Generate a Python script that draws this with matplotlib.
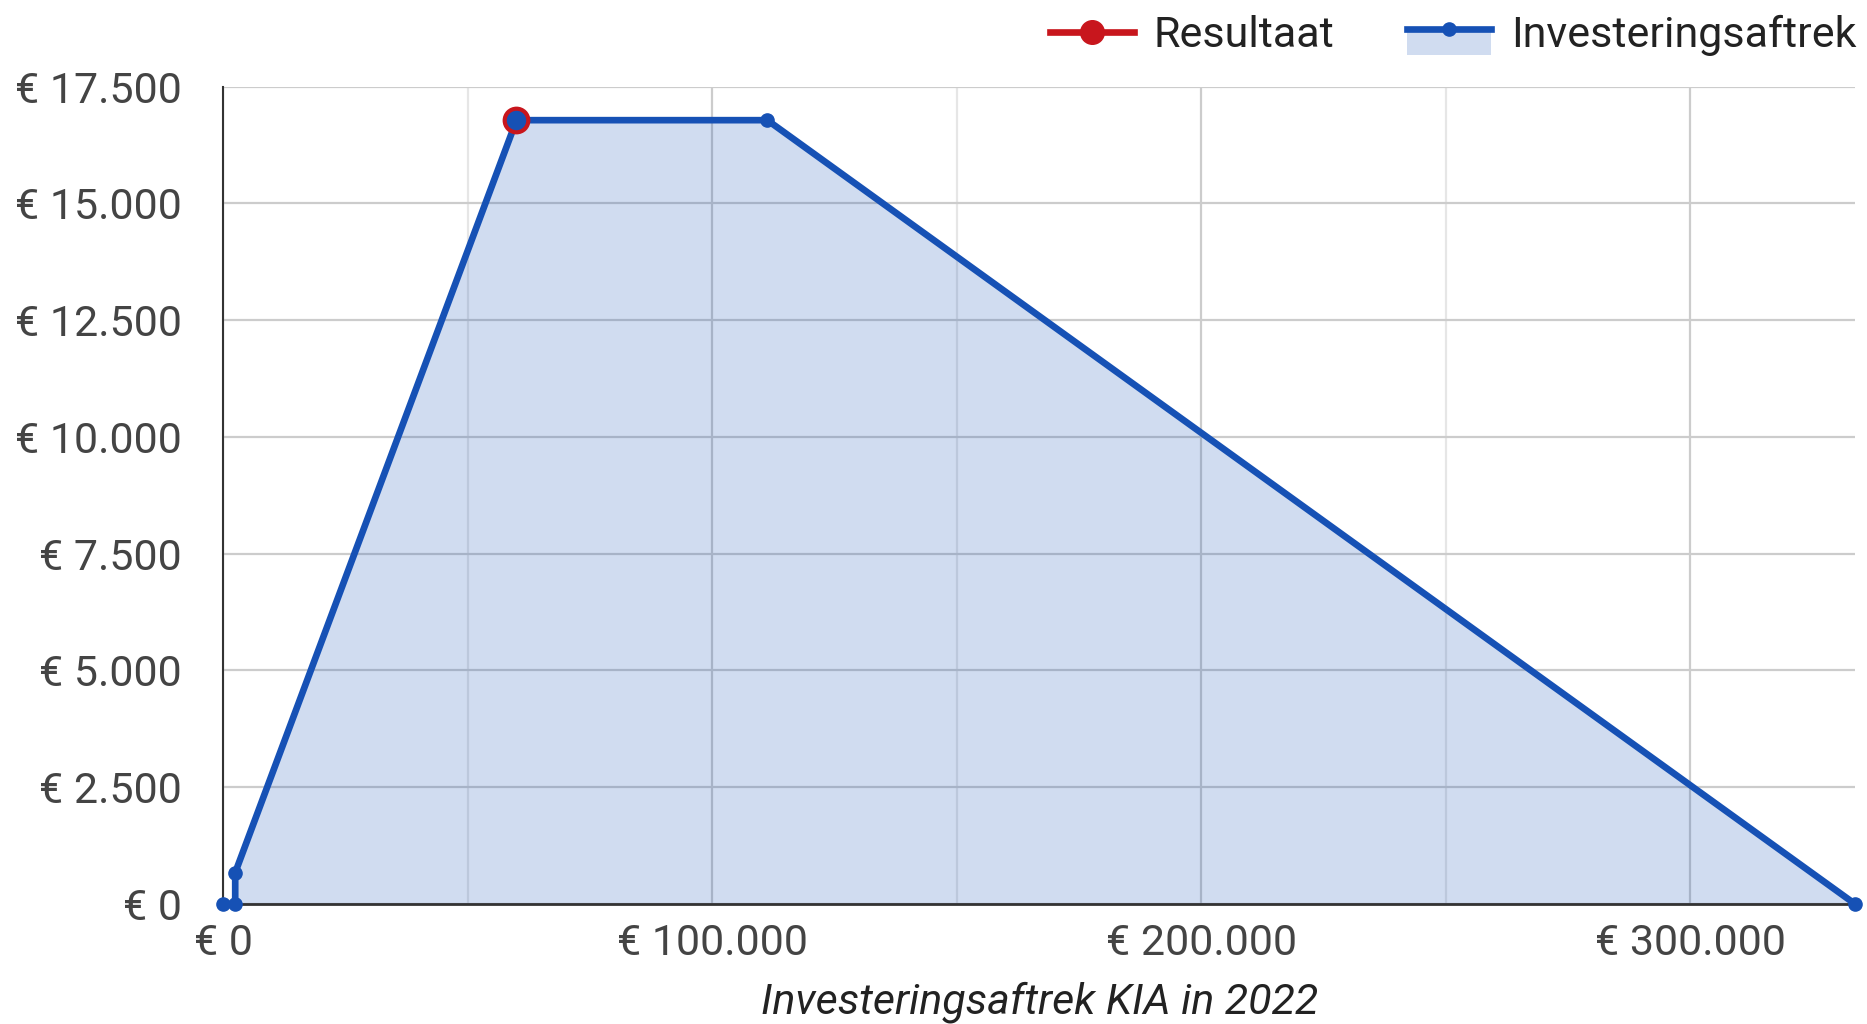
import matplotlib
matplotlib.use("Agg")
import matplotlib.pyplot as plt
from matplotlib.lines import Line2D
from matplotlib.patches import Rectangle
from matplotlib.legend_handler import HandlerBase
from matplotlib.ticker import FuncFormatter, MultipleLocator

plt.rcParams['font.family'] = ['Roboto', 'DejaVu Sans']

# KIA 2022 curve
invest = [0, 2400, 2401, 59940, 111252, 333755]
aftrek = [0, 0, 672, 16784, 16784, 0]
# result point
res_x = [59940]
res_y = [16784]

blue = '#1651b5'
red = '#c8161d'
txt = '#444444'


def euro(v, pos):
    return '€ ' + f'{int(round(v)):,}'.replace(',', '.')


class AreaHandler(HandlerBase):
    # line with small dot on top of a fill block, like the area legend
    def create_artists(self, legend, orig, xd, yd, width, height, fontsize, trans):
        yc = yd + height / 2
        rect = Rectangle((xd, yd - height * 0.25), width, height * 0.8,
                         facecolor=blue, alpha=0.2, lw=0, transform=trans)
        ln = Line2D([xd, xd + width], [yc + height * 0.1] * 2, color=blue, lw=4.8, transform=trans)
        dot = Line2D([xd + width / 2], [yc + height * 0.1], marker='o', ms=9.5, color=blue, transform=trans)
        return [rect, ln, dot]


fig = plt.figure(figsize=(18.67, 10.24), dpi=100)
ax = fig.add_axes([0.1197, 0.1172, 0.8739, 0.7981])

ax.fill_between(invest, aftrek, 0, color=blue, alpha=0.2, lw=0, zorder=2)
ax.plot(invest, aftrek, '-o', color=blue, lw=4.8, ms=9.5, zorder=4, clip_on=False)
ax.plot(res_x, res_y, 'o', mfc=blue, mec=red, mew=3, ms=17, zorder=5, clip_on=False)

ax.set_xlim(0, 333755)
ax.set_ylim(0, 17500)
ax.xaxis.set_major_locator(MultipleLocator(100000))
ax.xaxis.set_minor_locator(MultipleLocator(50000))
ax.yaxis.set_major_locator(MultipleLocator(2500))
ax.xaxis.set_major_formatter(FuncFormatter(euro))
ax.yaxis.set_major_formatter(FuncFormatter(euro))

ax.grid(which='major', color='#cccccc', lw=1.6, zorder=1)
ax.grid(which='minor', axis='x', color='#e6e6e6', lw=1.6, zorder=1)
ax.set_axisbelow(True)

for s in ['top', 'right']:
    ax.spines[s].set_visible(False)
ax.spines['left'].set_color('#333333')
ax.spines['bottom'].set_color('#333333')
ax.spines['left'].set_linewidth(1.5)
ax.spines['bottom'].set_linewidth(2)
ax.spines['bottom'].set_zorder(3)

ax.tick_params(axis='both', which='both', length=0, labelsize=31, labelcolor=txt)
ax.tick_params(axis='y', pad=30)
ax.tick_params(axis='x', pad=14)

ax.set_xlabel('Investeringsaftrek KIA in 2022', fontsize=31, style='italic', color='#222222', labelpad=12)

h_res = Line2D([], [], color=red, lw=4.8, marker='o', ms=17)
h_inv = Rectangle((0, 0), 1, 1)
fig.legend([h_res, h_inv], ['Resultaat', 'Investeringsaftrek'],
           handler_map={Rectangle: AreaHandler()},
           loc='upper right', bbox_to_anchor=(1.015, 1.023), ncol=2, frameon=False,
           fontsize=31, labelcolor='#222222', handlelength=1.95, handletextpad=0.45,
           columnspacing=1.7)

fig.savefig('out.png', dpi=100)
